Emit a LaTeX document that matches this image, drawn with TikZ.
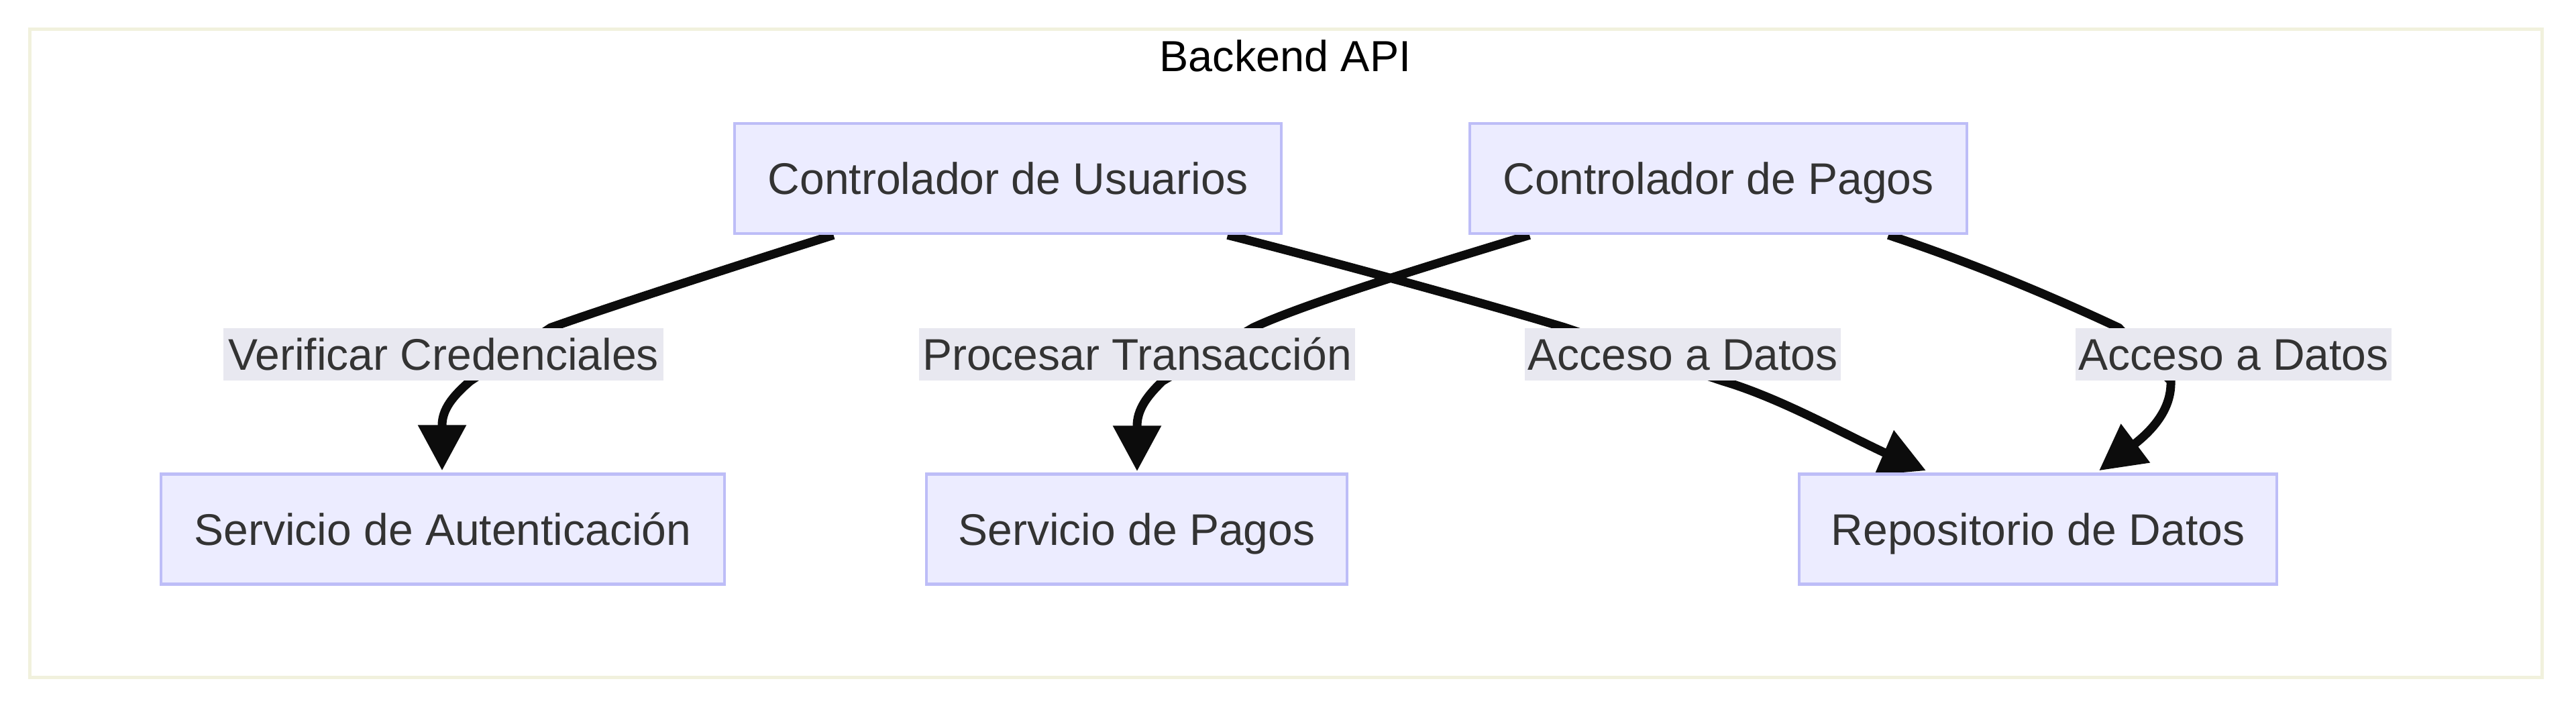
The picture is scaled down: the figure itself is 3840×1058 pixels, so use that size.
\documentclass[tikz,border=0pt]{standalone}
\usepackage{fontspec}
\setmainfont{Liberation Sans}
\usetikzlibrary{arrows.meta,calc}
\definecolor{nodefill}{RGB}{236,236,255}
\definecolor{nodestroke}{RGB}{189,189,247}
\definecolor{lblfill}{RGB}{232,232,240}
\definecolor{clstroke}{RGB}{241,241,221}
\definecolor{txt}{RGB}{51,51,51}
\definecolor{edgec}{RGB}{12,12,12}
\pgfdeclarelayer{bg}
\pgfdeclarelayer{edgelayer}
\pgfsetlayers{bg,edgelayer,main}
\begin{document}
\begin{tikzpicture}[x=0.25pt,y=-0.25pt,
  box/.style={draw=nodestroke, fill=nodefill, line width=1.125pt, inner sep=0pt, text=txt,
    font=\fontsize{16.5}{19.8}\selectfont, text height=11.8pt, text depth=0pt, minimum height=41pt},
  lbl/.style={fill=lblfill, inner sep=0pt, text=txt,
    font=\fontsize{16.5}{19.8}\selectfont, text height=11.8pt, text depth=0pt, minimum height=19.5pt},
  conn/.style={draw=edgec, line width=3.25pt, -{Triangle[length=17pt, width=17.25pt]}}]
\useasboundingbox (0,0) rectangle (3840,1058);
% cluster
\begin{pgfonlayer}{bg}
\node[draw=clstroke, fill=white, line width=1.25pt, minimum width=936.25pt, minimum height=241.25pt, inner sep=0pt] (cluster) at (1916.5,526.5) {};
\end{pgfonlayer}
\node[anchor=base, font=\fontsize{16.2}{19.4}\selectfont, text=black, inner sep=0pt] (title) at (1916,107) {Backend API};
% nodes
\node[box, minimum width=203.75pt] (cu) at (1502.5,266) {Controlador de Usuarios};
\node[box, minimum width=185.25pt] (cp) at (2561.5,266) {Controlador de Pagos};
\node[box, minimum width=210pt] (sa) at (660,788.5) {Servicio de Autenticación};
\node[box, minimum width=156.75pt] (sp) at (1694.5,788.5) {Servicio de Pagos};
\node[box, minimum width=178pt] (repo) at (3038,788.5) {Repositorio de Datos};
% edge labels
\node[lbl, minimum width=164pt] (vc) at (661,528) {Verificar Credenciales};
\node[lbl, minimum width=162.5pt] (pt) at (1695,528) {Procesar Transacción};
\node[lbl, minimum width=117.75pt] (ad1) at (2508.5,528) {Acceso a Datos};
\node[lbl, minimum width=117.75pt] (ad2) at (3329.5,528) {Acceso a Datos};
% edges
\begin{pgfonlayer}{edgelayer}
\draw[conn] ($(cu.south)+(-260,0)$) .. controls (1100,395) and (900,460) .. ($(vc.north)+(160,0)$)
  -- ($(vc.south)+(40,0)$) .. controls (675,590) and (659,610) .. (659,634) -- ($(sa.north)+(-1,-3)$);
\draw[conn] ($(cu.south)+(327.5,0)$) .. controls (1960,383) and (2200,448) .. ($(ad1.north)+(-175.5,0)$)
  -- ($(ad1.south)+(59.5,0)$) .. controls (2650,592) and (2740,642) .. (2808,674) -- ($(repo.north)+(-167,-3)$);
\draw[conn] ($(cp.south)+(-281.5,0)$) .. controls (2150,390) and (1950,450) .. ($(pt.north)+(173,0)$)
  -- ($(pt.south)+(38,0)$) .. controls (1710,590) and (1695,610) .. (1695,635) -- ($(sp.north)+(0.5,-2)$);
\draw[conn] ($(cp.south)+(253.5,0)$) .. controls (2950,395) and (3070,447) .. ($(ad2.north)+(-171.5,0)$)
  -- ($(ad2.south)+(-93.5,0)$) .. controls (3237,605) and (3215,635) .. (3184,660) -- ($(repo.north)+(91,-3)$);
\end{pgfonlayer}
\end{tikzpicture}
\end{document}
